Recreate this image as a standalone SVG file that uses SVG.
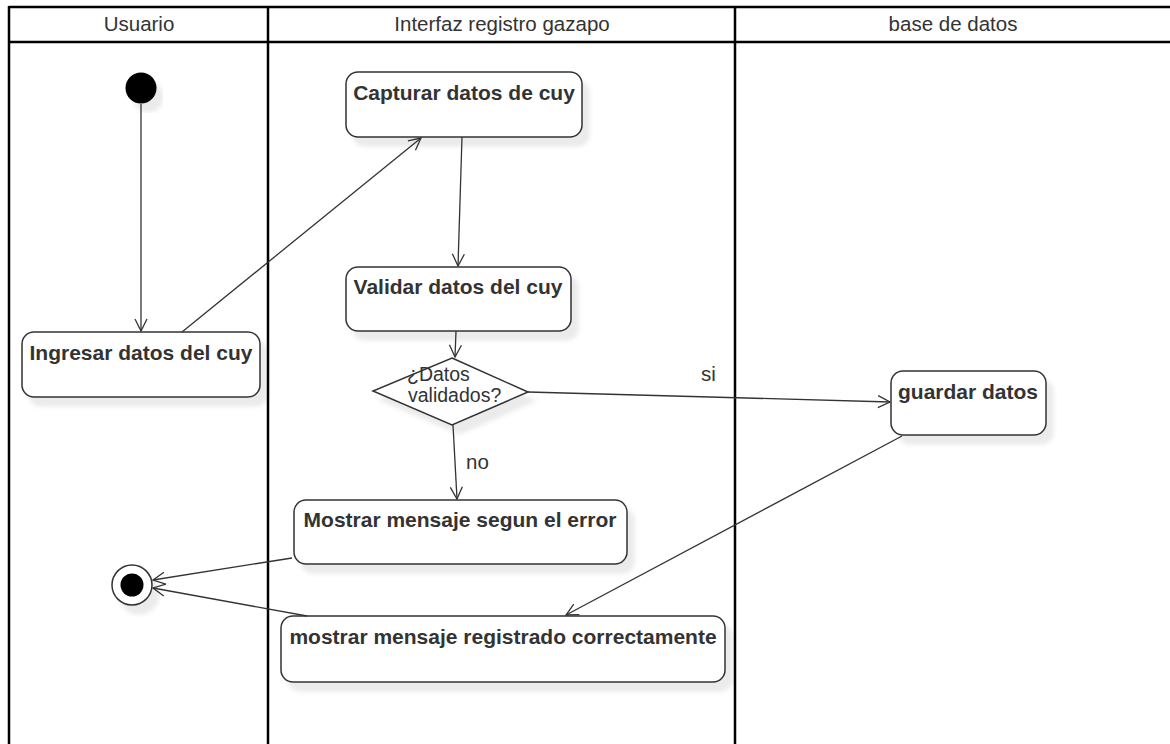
<svg xmlns="http://www.w3.org/2000/svg" width="1170" height="744" viewBox="0 0 1170 744">
<style>
.lane{fill:none;stroke:#000;stroke-width:2.5}
.hdr{font-family:"Liberation Sans",Arial,sans-serif;font-size:20.5px;fill:#333;text-anchor:middle}
.box{fill:#fff;stroke:#333;stroke-width:1.5;filter:url(#sh)}
.lbl{font-family:"Liberation Sans",Arial,sans-serif;font-size:21px;font-weight:bold;fill:#333;text-anchor:middle}
.txt{font-family:"Liberation Sans",Arial,sans-serif;font-size:20.5px;fill:#333}
.dtxt{font-family:"Liberation Sans",Arial,sans-serif;font-size:19.5px;fill:#333}
.edge{fill:none;stroke:#333;stroke-width:1.3;marker-end:url(#arr)}
</style>
<defs>
<filter id="sh" x="-10%" y="-10%" width="130%" height="140%">
<feDropShadow dx="7" dy="9" stdDeviation="2" flood-color="#000" flood-opacity="0.08"/>
</filter>
<marker id="arr" markerUnits="userSpaceOnUse" markerWidth="14" markerHeight="14" viewBox="0 0 14 14" refX="13" refY="7" orient="auto">
<path d="M1,1 L13,7 L1,13" fill="none" stroke="#333" stroke-width="1.3"/>
</marker>
</defs>
<rect width="1170" height="744" fill="#fff"/>
<g id="lanes">
<line class="lane" x1="9" y1="7" x2="1170" y2="7"/>
<line class="lane" x1="9" y1="42" x2="1170" y2="42"/>
<line class="lane" x1="9" y1="6" x2="9" y2="744"/>
<line class="lane" x1="268" y1="6" x2="268" y2="744"/>
<line class="lane" x1="735" y1="6" x2="735" y2="744"/>
<text class="hdr" x="139" y="31">Usuario</text>
<text class="hdr" x="502" y="31">Interfaz registro gazapo</text>
<text class="hdr" x="953" y="31">base de datos</text>
</g>
<g id="start"><circle cx="141" cy="88" r="15.5" fill="#000" filter="url(#sh)"/></g>
<g id="ingresar"><rect class="box" x="22" y="332" width="238" height="65" rx="12"/><text class="lbl" x="141" y="360">Ingresar datos del cuy</text></g>
<g id="capturar"><rect class="box" x="346" y="72" width="236" height="65" rx="12"/><text class="lbl" x="464" y="100">Capturar datos de cuy</text></g>
<g id="validar"><rect class="box" x="346" y="267" width="225" height="64" rx="12"/><text class="lbl" x="458" y="294">Validar datos del cuy</text></g>
<g id="decision"><polygon class="box" points="452,358 528,392 452,425 373,391"/><text class="dtxt" x="407" y="381">¿Datos</text><text class="dtxt" x="408" y="402">validados?</text></g>
<g id="guardar"><rect class="box" x="891" y="371" width="155" height="64" rx="12"/><text class="lbl" x="968" y="399">guardar datos</text></g>
<g id="error"><rect class="box" x="294" y="500" width="333" height="64" rx="12"/><text class="lbl" x="460" y="527">Mostrar mensaje segun el error</text></g>
<g id="registrado"><rect class="box" x="281" y="616" width="444" height="66" rx="12"/><text class="lbl" x="503" y="644">mostrar mensaje registrado correctamente</text></g>
<g id="end"><circle cx="132" cy="585" r="20" fill="#fff" stroke="#333" stroke-width="1.5" filter="url(#sh)"/><circle cx="132" cy="585" r="11.5" fill="#000"/></g>
<g id="connectors">
<line class="edge" x1="141" y1="104" x2="141" y2="331"/>
<line class="edge" x1="182" y1="332" x2="421" y2="138"/>
<line class="edge" x1="462" y1="137" x2="458" y2="266"/>
<line class="edge" x1="456" y1="331" x2="455" y2="357"/>
<line class="edge" x1="528" y1="392" x2="890" y2="402"/>
<line class="edge" x1="453" y1="425" x2="457" y2="499"/>
<line class="edge" x1="292" y1="558" x2="153" y2="580"/>
<line class="edge" x1="307" y1="616" x2="153" y2="588"/>
<line class="edge" x1="902" y1="436" x2="566" y2="615"/>
<text class="txt" x="701" y="381">si</text>
<text class="txt" x="466" y="469">no</text>
</g>
</svg>
